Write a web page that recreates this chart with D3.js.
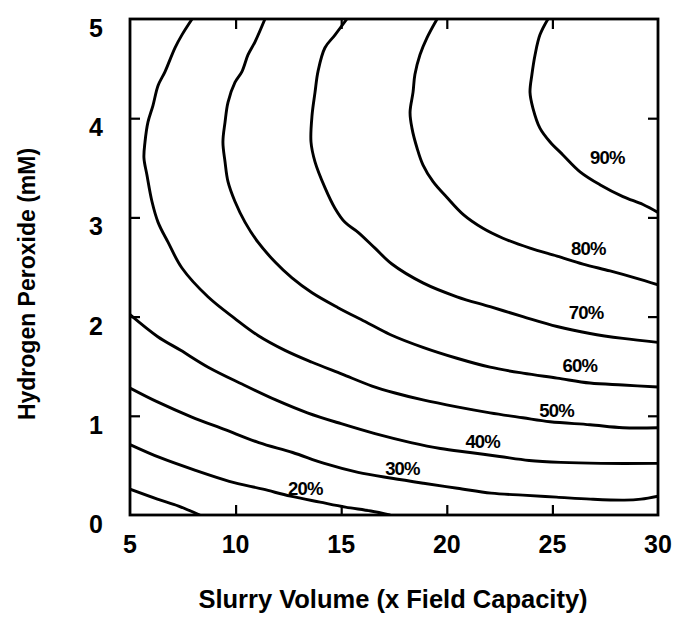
<!DOCTYPE html>
<html>
<head>
<meta charset="utf-8">
<script src="https://cdn.jsdelivr.net/npm/d3@7"></script>
<style>
  html, body { margin: 0; padding: 0; background: #fff; }
  svg { display: block; }
  text { font-family: "Liberation Sans", Arial, Helvetica, sans-serif; font-weight: bold; fill: #000; }
</style>
</head>
<body>
<svg id="chart" width="675" height="617"></svg>
<script>
// Axis domains and tick values
const xDomain = [5, 30];
const yDomain = [0, 5];
const xTickValues = [5, 10, 15, 20, 25, 30];
const yTickValues = [0, 1, 2, 3, 4, 5];

// Contour lines of equal removal, as [slurry volume, H2O2 mM] pairs
const c10 = [[5,0.26],[6.3,0.16],[7.3,0.09],[8.3,0]];
const c20 = [[5,0.71],[6.4,0.58],[8.1,0.45],[9.7,0.34],[11.3,0.26],[12.6,0.19],[14,0.13],[15.2,0.08],[16.4,0.04],[17.3,0]];
const c30 = [[5,1.28],[6.3,1.14],[7.9,0.99],[9.5,0.86],[11.1,0.73],[12.7,0.63],[14.2,0.52],[15.8,0.43],[17.4,0.37],[18.9,0.32],[20.5,0.27],[22.1,0.22],[23.6,0.2],[25.2,0.18],[26.8,0.16],[28.4,0.15],[29.2,0.16],[30,0.19]];
const c40 = [[5,2.02],[6.3,1.8],[7.4,1.66],[8.7,1.49],[10.3,1.32],[11.9,1.16],[13.4,1.03],[15,0.92],[16.6,0.82],[18.3,0.73],[19.7,0.67],[21.1,0.63],[22.5,0.59],[23.9,0.55],[25.4,0.53],[27.3,0.52],[30,0.52]];
const c50 = [[7.94,5],[7.46,4.84],[7.13,4.71],[6.66,4.47],[6.33,4.33],[6.09,4.13],[5.85,3.96],[5.71,3.76],[5.66,3.6],[5.8,3.43],[6.04,3.16],[6.33,2.95],[6.8,2.75],[7.46,2.49],[8.69,2.2],[9.97,1.98],[11.06,1.81],[12.34,1.66],[13.62,1.54],[15.04,1.42],[16.46,1.3],[17.55,1.23],[18.87,1.16],[20.48,1.09],[22.05,1.03],[23.6,0.98],[24.89,0.94],[26.78,0.91],[28.34,0.88],[30,0.88]];
const c60 = [[11.39,5],[10.92,4.77],[10.59,4.64],[10.3,4.47],[9.97,4.36],[9.64,4.16],[9.5,3.96],[9.4,3.76],[9.5,3.56],[9.64,3.36],[9.97,3.16],[10.45,2.95],[11.06,2.75],[11.87,2.55],[12.67,2.39],[13.62,2.24],[14.85,2.09],[16.13,1.95],[17.31,1.82],[18.87,1.69],[20.48,1.58],[22.05,1.49],[23.6,1.43],[25.22,1.38],[26.78,1.33],[28.34,1.31],[30,1.29]];
const c70 = [[15.27,5],[14.71,4.84],[14.23,4.71],[13.9,4.47],[13.76,4.26],[13.62,4.03],[13.57,3.76],[13.76,3.56],[14.23,3.3],[14.71,3.09],[15.18,2.95],[15.8,2.85],[16.6,2.69],[17.4,2.53],[18.87,2.34],[20.48,2.2],[22.05,2.1],[23.6,2.0],[25.22,1.9],[26.78,1.83],[28.34,1.78],[30,1.74]];
const c80 = [[19.54,5],[19.06,4.81],[18.73,4.64],[18.49,4.44],[18.4,4.26],[18.26,4.06],[18.35,3.9],[18.59,3.7],[18.87,3.53],[19.35,3.36],[20.01,3.2],[20.77,3.03],[21.71,2.89],[22.66,2.79],[23.94,2.69],[25.22,2.61],[26.45,2.53],[27.73,2.46],[28.91,2.39],[30,2.32]];
const c90 = [[24.79,5],[24.41,4.84],[24.18,4.64],[24.03,4.44],[23.94,4.26],[24.08,4.1],[24.41,3.9],[24.89,3.76],[25.5,3.63],[26.31,3.46],[27.25,3.33],[28.34,3.21],[29.29,3.13],[30,3.05]];

// Contour level names and where each name is written (data units)
const levelNames = ["20%", "30%", "40%", "50%", "60%", "70%", "80%", "90%"];
const labelX = [13.3, 17.9, 21.7, 25.2, 26.3, 26.6, 26.7, 27.6];
const labelY = [0.27, 0.47, 0.74, 1.06, 1.51, 2.04, 2.69, 3.61];

const contours = [c10, c20, c30, c40, c50, c60, c70, c80, c90];

const svg = d3.select("#chart");
const plot = { left: 130, right: 658, top: 19, bottom: 515 };

const x = d3.scaleLinear().domain(xDomain).range([plot.left, plot.right]);
const y = d3.scaleLinear().domain(yDomain).range([plot.bottom, plot.top]);

svg.append("defs").append("clipPath").attr("id", "plot-clip")
  .append("rect")
  .attr("x", plot.left).attr("y", plot.top)
  .attr("width", plot.right - plot.left).attr("height", plot.bottom - plot.top);

// Contour lines
const line = d3.line()
  .x(d => x(d[0]))
  .y(d => y(d[1]))
  .curve(d3.curveCatmullRom.alpha(0.5));

svg.append("g").attr("clip-path", "url(#plot-clip)")
  .selectAll("path")
  .data(contours)
  .join("path")
  .attr("d", line)
  .attr("fill", "none")
  .attr("stroke", "#000")
  .attr("stroke-width", 2.9)
  .attr("stroke-linejoin", "round")
  .attr("stroke-linecap", "round");

// Level labels
svg.append("g")
  .selectAll("text")
  .data(levelNames)
  .join("text")
  .attr("x", (d, i) => x(labelX[i]))
  .attr("y", (d, i) => y(labelY[i]))
  .attr("dy", "0.36em")
  .attr("text-anchor", "middle")
  .attr("font-size", 18.5)
  .attr("letter-spacing", -0.8)
  .text(d => d);

// Axes with inward ticks on all four sides
const tickLen = 10;
function styleAxis(g) {
  g.select(".domain").remove();
  g.selectAll(".tick line").attr("stroke", "#000").attr("stroke-width", 2.2);
  g.selectAll(".tick text").remove();
}
svg.append("g").attr("transform", `translate(0,${plot.bottom})`)
  .call(d3.axisBottom(x).tickValues(xTickValues.slice(1, -1)).tickSizeInner(-tickLen).tickSizeOuter(0))
  .call(styleAxis);
svg.append("g").attr("transform", `translate(0,${plot.top})`)
  .call(d3.axisTop(x).tickValues(xTickValues.slice(1, -1)).tickSizeInner(-tickLen).tickSizeOuter(0))
  .call(styleAxis);
svg.append("g").attr("transform", `translate(${plot.left},0)`)
  .call(d3.axisLeft(y).tickValues(yTickValues.slice(1, -1)).tickSizeInner(-tickLen).tickSizeOuter(0))
  .call(styleAxis);
svg.append("g").attr("transform", `translate(${plot.right},0)`)
  .call(d3.axisRight(y).tickValues(yTickValues.slice(1, -1)).tickSizeInner(-tickLen).tickSizeOuter(0))
  .call(styleAxis);

// Frame
svg.append("rect")
  .attr("x", plot.left).attr("y", plot.top)
  .attr("width", plot.right - plot.left).attr("height", plot.bottom - plot.top)
  .attr("fill", "none").attr("stroke", "#000").attr("stroke-width", 2.8);

// Tick labels
svg.append("g")
  .selectAll("text")
  .data(xTickValues)
  .join("text")
  .attr("x", d => x(d))
  .attr("y", plot.bottom + 38)
  .attr("text-anchor", "middle")
  .attr("font-size", 25)
  .text(d => d);

svg.append("g")
  .selectAll("text")
  .data(yTickValues)
  .join("text")
  .attr("x", 103)
  .attr("y", d => y(d) + 18)
  .attr("text-anchor", "end")
  .attr("font-size", 25)
  .text(d => d);

// Axis titles
svg.append("text")
  .attr("x", 393)
  .attr("y", 608)
  .attr("text-anchor", "middle")
  .attr("font-size", 25.5)
  .text("Slurry Volume (x Field Capacity)");

svg.append("text")
  .attr("transform", "translate(35,284) rotate(-90)")
  .attr("text-anchor", "middle")
  .attr("font-size", 23)
  .text("Hydrogen Peroxide (mM)");
</script>
</body>
</html>
